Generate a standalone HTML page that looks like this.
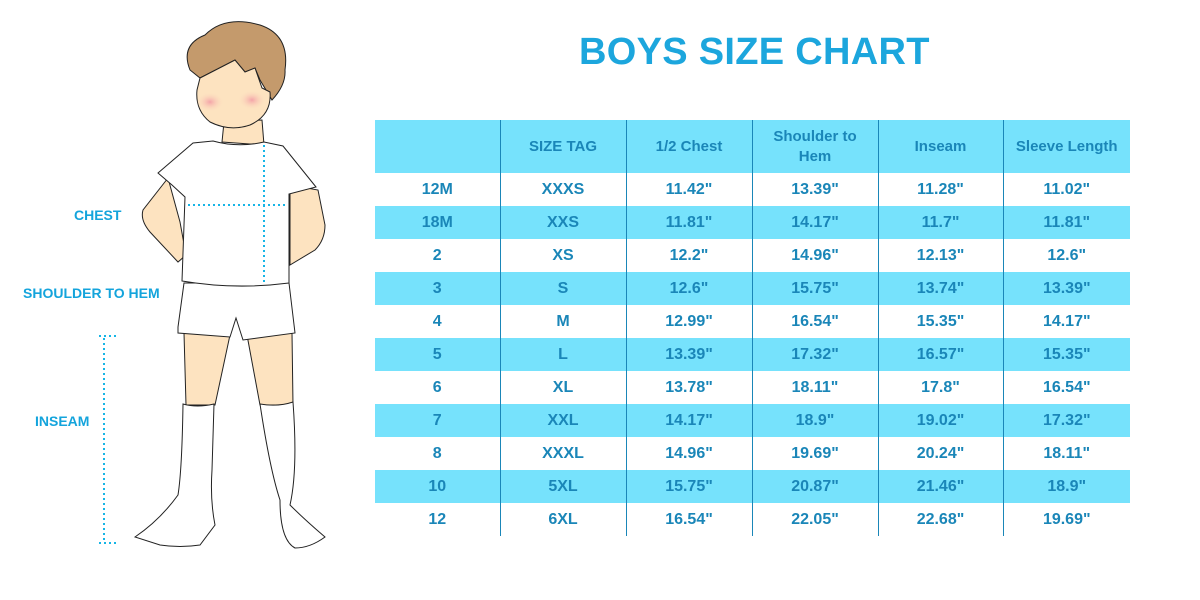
<!DOCTYPE html>
<html><head><meta charset="utf-8"><style>
body{margin:0;width:1200px;height:600px;background:#fff;position:relative;overflow:hidden;font-family:"Liberation Sans",sans-serif}
.title{position:absolute;left:579px;top:31px;font-size:38px;font-weight:bold;color:#1ca6dd;letter-spacing:0.3px}
table{position:absolute;left:375px;top:120px;border-collapse:collapse;width:755px}
td{text-align:center;color:#1a86b8;font-weight:bold;font-size:16px;height:33px;padding:0;border-left:1.5px solid #1a86b8}
td:first-child{border-left:none}
tr.b td{background:#76e2fc}
tr.h td{height:53px;font-size:15px;line-height:20px}
.lab{position:absolute;color:#14a4dc;font-weight:bold;font-size:14px}
</style></head><body>
<div class="title">BOYS SIZE CHART</div>
<table>
<colgroup><col style="width:125px"><col style="width:126px"><col style="width:126px"><col style="width:126px"><col style="width:125px"><col style="width:127px"></colgroup>
<tr class="h b"><td></td><td>SIZE TAG</td><td>1/2 Chest</td><td>Shoulder to<br>Hem</td><td>Inseam</td><td>Sleeve Length</td></tr>
<tr><td>12M</td><td>XXXS</td><td>11.42"</td><td>13.39"</td><td>11.28"</td><td>11.02"</td></tr>
<tr class="b"><td>18M</td><td>XXS</td><td>11.81"</td><td>14.17"</td><td>11.7"</td><td>11.81"</td></tr>
<tr><td>2</td><td>XS</td><td>12.2"</td><td>14.96"</td><td>12.13"</td><td>12.6"</td></tr>
<tr class="b"><td>3</td><td>S</td><td>12.6"</td><td>15.75"</td><td>13.74"</td><td>13.39"</td></tr>
<tr><td>4</td><td>M</td><td>12.99"</td><td>16.54"</td><td>15.35"</td><td>14.17"</td></tr>
<tr class="b"><td>5</td><td>L</td><td>13.39"</td><td>17.32"</td><td>16.57"</td><td>15.35"</td></tr>
<tr><td>6</td><td>XL</td><td>13.78"</td><td>18.11"</td><td>17.8"</td><td>16.54"</td></tr>
<tr class="b"><td>7</td><td>XXL</td><td>14.17"</td><td>18.9"</td><td>19.02"</td><td>17.32"</td></tr>
<tr><td>8</td><td>XXXL</td><td>14.96"</td><td>19.69"</td><td>20.24"</td><td>18.11"</td></tr>
<tr class="b"><td>10</td><td>5XL</td><td>15.75"</td><td>20.87"</td><td>21.46"</td><td>18.9"</td></tr>
<tr><td>12</td><td>6XL</td><td>16.54"</td><td>22.05"</td><td>22.68"</td><td>19.69"</td></tr>
</table>
<svg width="360" height="600" style="position:absolute;left:0;top:0" stroke="#222" stroke-width="1">
<defs><radialGradient id="ck"><stop offset="0" stop-color="#f4a3a8"/><stop offset="1" stop-color="#fde3c0" stop-opacity="0"/></radialGradient></defs>
<path d="M168,178 L143,210 Q140,220 150,232 L178,262 L186,255 L180,222 Z" fill="#fde3c0"/>
<path d="M290,185 L318,190 L325,225 Q325,240 315,250 L290,265 Z" fill="#fde3c0"/>
<path d="M184,333 L186,405 L215,405 L230,335 Z" fill="#fde3c0"/>
<path d="M247,335 L260,405 L293,405 L292,333 Z" fill="#fde3c0"/>
<path d="M183,404 Q197,408 214,404 L212,470 Q210,500 215,525 L200,545 Q180,548 160,545 L135,537 Q160,520 178,495 Q182,470 183,404Z" fill="#fff"/>
<path d="M260,404 Q278,407 293,402 Q298,470 290,505 Q305,520 325,537 Q310,548 295,548 Q280,540 280,500 Q270,470 260,404Z" fill="#fff"/>
<path d="M184,283 L178,327 L178,333 L230,337 L236,318 L243,340 L295,333 L289,283 Z" fill="#fff"/>
<path d="M224,122 L222,142 L264,145 L262,120 Z" fill="#fde3c0"/>
<path d="M158,173 L193,143 L213,141 Q238,148 264,142 L283,146 L316,187 L289,194 L289,283 Q235,290 182,281 L185,197 L172,185 Z" fill="#fff"/>
<path d="M190,70 Q180,45 205,35 Q225,15 260,25 Q290,35 285,70 Q286,85 272,100 L260,80 L255,68 L245,72 L235,60 L200,78 Z" fill="#c49a6c"/>
<path d="M200,78 L235,60 L245,72 L255,68 L262,88 L270,92 Q272,115 250,125 Q230,132 210,122 Q195,110 197,90 Z" fill="#fde3c0"/>
<ellipse cx="210" cy="102" rx="14" ry="10" fill="url(#ck)" stroke="none"/>
<ellipse cx="252" cy="100" rx="14" ry="10" fill="url(#ck)" stroke="none"/>
<g stroke="#16b5e6" stroke-width="2" stroke-dasharray="2,3" fill="none">
<line x1="264" y1="145" x2="264" y2="285"/>
<line x1="188" y1="205" x2="285" y2="205"/>
<line x1="104" y1="338" x2="104" y2="541"/>
<line x1="99" y1="336" x2="117" y2="336"/>
<line x1="99" y1="543" x2="117" y2="543"/>
</g>
</svg>
<div class="lab" style="left:74px;top:207px">CHEST</div>
<div class="lab" style="left:23px;top:285px">SHOULDER TO HEM</div>
<div class="lab" style="left:35px;top:413px">INSEAM</div>
</body></html>
